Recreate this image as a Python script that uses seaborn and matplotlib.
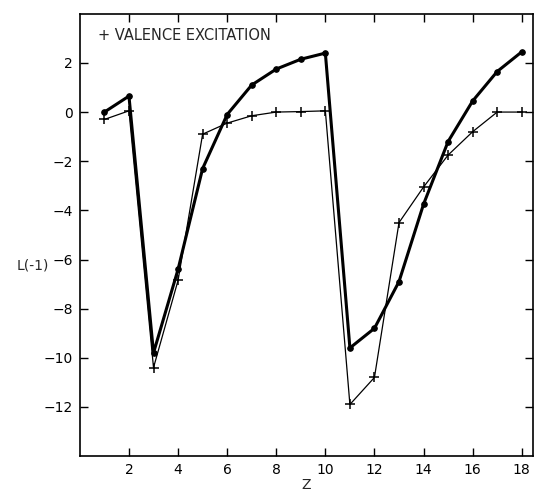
import matplotlib
matplotlib.use("Agg")
import matplotlib.pyplot as plt
import seaborn as sns
import pandas as pd

Z = list(range(1, 19))
L_total = [0.0, 0.65, -9.8, -6.4, -2.3, -0.1, 1.1, 1.75, 2.15, 2.4,
           -9.6, -8.8, -6.9, -3.75, -1.2, 0.45, 1.65, 2.45]
L_valence = [-0.3, 0.05, -10.4, -6.85, -0.9, -0.45, -0.15, 0.0, 0.02, 0.05,
             -11.9, -10.8, -4.5, -3.05, -1.75, -0.8, 0.0, 0.0]
xticks = [2, 4, 6, 8, 10, 12, 14, 16, 18]
yticks = [-12, -10, -8, -6, -4, -2, 0, 2]

sns.set_style("ticks")
plt.rcParams['font.family'] = ['DejaVu Sans']

df_t = pd.DataFrame({"Z": Z, "L": L_total})
df_v = pd.DataFrame({"Z": Z, "L": L_valence})

fig = plt.figure(figsize=(5.36, 4.92), dpi=100)
ax = fig.add_axes([0.149, 0.073, 0.845, 0.899])

sns.lineplot(data=df_v, x="Z", y="L", ax=ax, color="black", linewidth=0.9,
             marker="+", markersize=7, markeredgewidth=1.1, markeredgecolor="black")
sns.lineplot(data=df_t, x="Z", y="L", ax=ax, color="black", linewidth=2.2,
             marker="o", markersize=4, markeredgecolor="black", markerfacecolor="black")

ax.set_xlim(0, 18.45)
ax.set_ylim(-14, 4)
ax.set_xticks(xticks)
ax.set_yticks(yticks)
ax.set_xticklabels([str(t) for t in xticks], fontsize=10)
ax.set_yticklabels([str(t).replace("-", "\u2212") for t in yticks], fontsize=10)
ax.tick_params(direction="in", length=6, width=1, top=True, right=True,
               labeltop=False, labelright=False, colors="black", pad=5)
for s in ax.spines.values():
    s.set_linewidth(1.2)
    s.set_color("black")
    s.set_visible(True)

ax.set_xlabel("Z", fontsize=10, va="center")
ax.xaxis.set_label_coords(0.5, -0.066)
ax.set_ylabel("L(-1)", fontsize=10, rotation=0, va="center", ha="center")
ax.yaxis.set_label_coords(-0.104, 0.432)

ax.text(0.04, 0.95, "+ VALENCE EXCITATION", transform=ax.transAxes,
        fontsize=10.5, va="center", ha="left")

fig.savefig("out.png", dpi=100)
